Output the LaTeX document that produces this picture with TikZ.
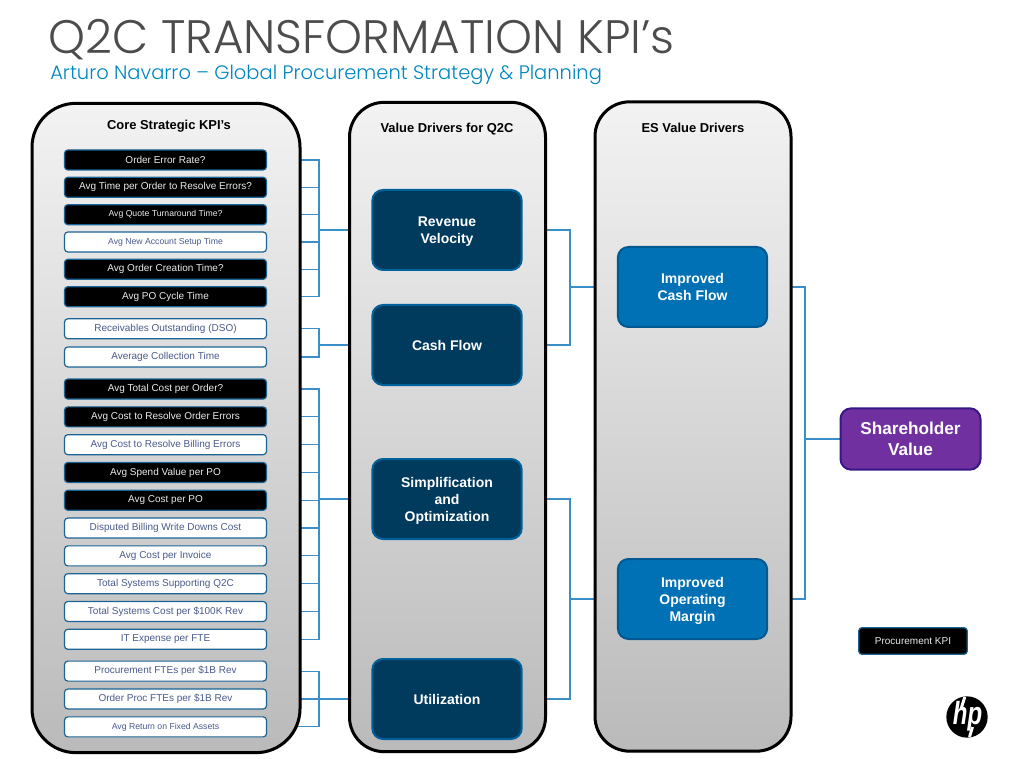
\documentclass[tikz,border=0pt]{standalone}
\usepackage{fontspec}
\setmainfont{Liberation Sans}
\newfontfamily\titlefont{Poppins Light}
\usepackage{xcolor}
\usetikzlibrary{positioning, shadows}
\definecolor{kpiedge}{HTML}{1B6496}
\definecolor{kpitext}{HTML}{4A5A8C}
\definecolor{wireblue}{HTML}{3A8FC8}
\definecolor{navybox}{HTML}{003A5D}
\definecolor{esblue}{HTML}{0071B5}
\definecolor{purplebox}{HTML}{7030A0}
\pgfdeclarelayer{wires}
\pgfsetlayers{wires,main}

\begin{document}
\begin{tikzpicture}[
    x=0.75pt, y=-0.75pt,
    panel/.style={rectangle, draw=black, line width=2.25pt, top color=black!5, bottom color=black!27, rounded corners=33pt, minimum height=487pt, drop shadow={opacity=0.25, shadow xshift=1pt, shadow yshift=-1pt}},
    paneltitle/.style={font=\bfseries\fontsize{9.7}{11}\selectfont, text=black},
    kpibox/.style={rectangle, draw=kpiedge, line width=0.9pt, rounded corners=2.5pt, minimum width=151.5pt, minimum height=15pt, inner sep=0pt, font=\fontsize{7.5}{9}\selectfont},
    kpidark/.style={kpibox, fill=black, text=black!8},
    kpilight/.style={kpibox, fill=white, text=kpitext},
    driver/.style={rectangle, draw=#1, fill=#1, line width=1.5pt, rounded corners=8pt, minimum width=112pt, minimum height=60pt, align=center, text=white, text depth=0pt, font=\bfseries\fontsize{10.5}{12.8}\selectfont},
    wire/.style={draw=wireblue, line width=0.9pt}
]
\useasboundingbox (0,0) rectangle (1014,759);

% heading
\node[anchor=base west, inner sep=0pt, text=black!70, font=\titlefont\fontsize{35.2}{42}\selectfont] (heading) at (48,54) {Q2C TRANSFORMATION KPI’s};
\node[anchor=base west, inner sep=0pt, text=esblue!85!cyan, font=\titlefont\fontsize{14.6}{17}\selectfont] (subheading) at (50,80) {Arturo Navarro – Global Procurement Strategy \& Planning};

% panels
\node[panel, minimum width=201pt] (corepanel) at (166,428) {};
\node[panel, minimum width=147pt, rounded corners=26pt] (valuepanel) at (447.5,427) {};
\node[panel, minimum width=147pt, rounded corners=26pt] (espanel) at (693,426.5) {};
\node[paneltitle] (coretitle) at (169,126) {Core Strategic KPI’s};
\node[paneltitle] (valuetitle) at (447,129) {Value Drivers for Q2C};
\node[paneltitle] (estitle) at (693,128) {ES Value Drivers};

% kpi list
\node[kpidark] (kpia) at (165.5,160) {Order Error Rate?};
\node[kpidark, below=4.6pt of kpia] (kpib) {Avg Time per Order to Resolve Errors?};
\node[kpidark, below=4.6pt of kpib, font=\fontsize{6.5}{8}\selectfont] (kpic) {Avg Quote Turnaround Time?};
\node[kpilight, below=4.6pt of kpic, font=\fontsize{6.5}{8}\selectfont] (kpid) {Avg New Account Setup Time};
\node[kpidark, below=4.6pt of kpid] (kpie) {Avg Order Creation Time?};
\node[kpidark, below=4.6pt of kpie] (kpif) {Avg PO Cycle Time};
\node[kpilight, below=8.2pt of kpif] (kpig) {Receivables Outstanding (DSO)};
\node[kpilight, below=5.2pt of kpig] (kpih) {Average Collection Time};
\node[kpidark, below=8.2pt of kpih] (kpii) {Avg Total Cost per Order?};
\node[kpidark, below=4.95pt of kpii] (kpij) {Avg Cost to Resolve Order Errors};
\node[kpilight, below=4.95pt of kpij] (kpik) {Avg Cost to Resolve Billing Errors};
\node[kpidark, below=4.95pt of kpik] (kpil) {Avg Spend Value per PO};
\node[kpidark, below=4.95pt of kpil] (kpim) {Avg Cost per PO};
\node[kpilight, below=4.95pt of kpim] (kpin) {Disputed Billing Write Downs Cost};
\node[kpilight, below=4.95pt of kpin] (kpio) {Avg Cost per Invoice};
\node[kpilight, below=4.95pt of kpio] (kpip) {Total Systems Supporting Q2C};
\node[kpilight, below=4.95pt of kpip] (kpiq) {Total Systems Cost per \$100K Rev};
\node[kpilight, below=4.95pt of kpiq] (kpir) {IT Expense per FTE};
\node[kpilight, below=8pt of kpir] (kpis) {Procurement FTEs per \$1B Rev};
\node[kpilight, below=5pt of kpis] (kpit) {Order Proc FTEs per \$1B Rev};
\node[kpilight, below=5pt of kpit, font=\fontsize{6.5}{8}\selectfont] (kpiu) {Avg Return on Fixed Assets};

% value drivers
\node[driver=navybox, draw=esblue!85!black] (revenue) at (447,230) {Revenue\\Velocity};
\node[driver=navybox, draw=esblue!85!black] (cash) at (447,345) {Cash Flow};
\node[driver=navybox, draw=esblue!85!black] (simplify) at (447,499) {Simplification\\and\\Optimization};
\node[driver=navybox, draw=esblue!85!black] (utilization) at (447,699) {Utilization};
\node[driver=esblue, draw=esblue!80!black] (improvedcash) at (692.5,287) {Improved\\Cash Flow};
\node[driver=esblue, draw=esblue!80!black] (improvedmargin) at (692.5,599) {Improved\\Operating\\Margin};
\node[driver=purplebox, draw=purplebox!70!blue!70!black, minimum width=105pt, minimum height=46pt, font=\bfseries\fontsize{12.9}{15.5}\selectfont] (shareholder) at (910.5,439) {Shareholder\\Value};

% legend and logo
\node[kpidark, minimum width=81.5pt, minimum height=20pt] (legend) at (913,641) {Procurement KPI};
\node[circle, fill=black, minimum size=31pt, inner sep=0pt] (hplogo) at (967,717) {};
\node[anchor=base, inner sep=0pt, text=white, font=\bfseries\itshape\fontsize{24}{24}\selectfont] (hpmark) at (967.5,724.3) {\scalebox{0.75}[1]{hp}};
\draw[white, line width=2.2pt] (964.8,697) -- (961,709);
\draw[white, line width=2.2pt] (969.5,737) -- (972.5,727);

% connectors
\coordinate (busa) at (319,230);
\coordinate (busb) at (319,345);
\coordinate (busc) at (319,499);
\coordinate (busd) at (319,699);
\coordinate (buse) at (570,287);
\coordinate (busf) at (570,599);
\coordinate (busg) at (805,439);
\begin{pgfonlayer}{wires}
\foreach \kpi in {kpia,kpib,kpic,kpid,kpie,kpif} \draw[wire] (\kpi.east) -| (busa);
\foreach \kpi in {kpig,kpih} \draw[wire] (\kpi.east) -| (busb);
\foreach \kpi in {kpii,kpij,kpik,kpil,kpim,kpin,kpio,kpip,kpiq,kpir} \draw[wire] (\kpi.east) -| (busc);
\foreach \kpi in {kpis,kpit,kpiu} \draw[wire] (\kpi.east) -| (busd);
\draw[wire] (busa) -- (revenue.west);
\draw[wire] (busb) -- (cash.west);
\draw[wire] (busc) -- (simplify.west);
\draw[wire] (busd) -- (utilization.west);
\foreach \drv in {revenue,cash} \draw[wire] (\drv.east) -| (buse);
\foreach \drv in {simplify,utilization} \draw[wire] (\drv.east) -| (busf);
\draw[wire] (buse) -- (improvedcash.west);
\draw[wire] (busf) -- (improvedmargin.west);
\foreach \drv in {improvedcash,improvedmargin} \draw[wire] (\drv.east) -| (busg);
\draw[wire] (busg) -- (shareholder.west);
\end{pgfonlayer}
\end{tikzpicture}
\end{document}
